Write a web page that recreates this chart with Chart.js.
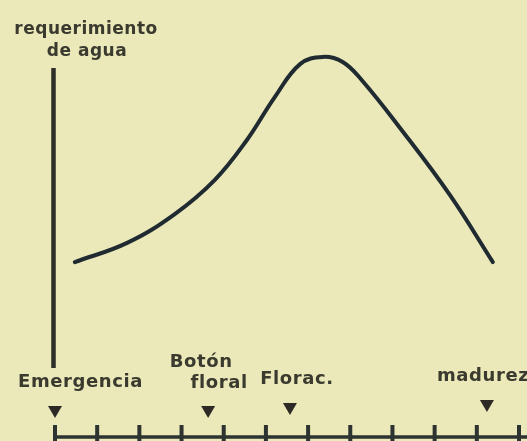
<!DOCTYPE html>
<html>
<head>
<meta charset="utf-8">
<script src="https://cdn.jsdelivr.net/npm/chart.js@4/dist/chart.umd.min.js"></script>
<style>
  html, body { margin: 0; padding: 0; background: #ebe8b9; }
  #wrap { width: 527px; height: 441px; position: relative; }
</style>
</head>
<body>
<div id="wrap"><canvas id="c" width="527" height="441"></canvas></div>
<script>
// ---- data ----
const axisTitle = ["requerimiento", "de agua"];
const curveX = [0.47, 1.71, 2.84, 3.79, 4.55, 5.21, 5.81, 6.35, 6.82, 7.27, 8.18, 9.36, 10.38];
const curveY = [35.3, 41.7, 51.3, 62.7, 76, 90.3, 101.3, 103.7, 102, 96, 80, 57.7, 35.3];
const timeTicks = [0, 1, 2, 3, 4, 5, 6, 7, 8, 9, 10, 11];
const stageNames = [["Emergencia"], ["Botón", "floral"], ["Florac."], ["madurez"]];
const stagePos = [0, 3.63, 5.57, 10.24];

const ink = '#3a3a2f';
const curveInk = '#1f2b31';

// label layout (pixel offsets relative to the stage marker), style only
const labelStyle = [
  { lines: [{ dx: -37, dy: -19, align: 'left' }] },
  { lines: [{ dx: -7, dy: -39, align: 'center' }, { dx: 11, dy: -18, align: 'center' }] },
  { lines: [{ dx: 7, dy: -19, align: 'center' }] },
  { lines: [{ dx: -50, dy: -19, align: 'left' }] }
];

const decor = {
  id: 'decor',
  beforeDatasetsDraw(chart) {
    const { ctx, chartArea, scales } = chart;
    const xs = scales.x, ys = scales.y;
    ctx.save();
    // vertical axis line
    ctx.strokeStyle = '#2e2f28';
    ctx.lineWidth = 4.5;
    ctx.beginPath();
    ctx.moveTo(xs.getPixelForValue(0) - 1.5, ys.getPixelForValue(100));
    ctx.lineTo(xs.getPixelForValue(0) - 1.5, ys.getPixelForValue(0));
    ctx.stroke();

    // axis title
    ctx.fillStyle = ink;
    ctx.font = 'bold 17px "DejaVu Sans"';
    ctx.letterSpacing = '0.5px';
    ctx.textAlign = 'center';
    ctx.textBaseline = 'alphabetic';
    ctx.fillText(axisTitle[0], 86, 34);
    ctx.fillText(axisTitle[1], 87, 56);

    // bottom time axis
    const baseY = chartArea.bottom + 69;
    ctx.strokeStyle = '#2c3331';
    ctx.lineWidth = 3.5;
    ctx.beginPath();
    ctx.moveTo(xs.getPixelForValue(timeTicks[0]) - 2, baseY);
    ctx.lineTo(chart.width, baseY);
    ctx.stroke();
    ctx.lineWidth = 4;
    timeTicks.forEach(t => {
      const px = xs.getPixelForValue(t);
      ctx.beginPath();
      ctx.moveTo(px, baseY - 12);
      ctx.lineTo(px, chart.height);
      ctx.stroke();
    });

    // stage markers and labels
    ctx.font = 'bold 18px "DejaVu Sans"';
    ctx.letterSpacing = '0.6px';
    stagePos.forEach((s, i) => {
      const px = xs.getPixelForValue(s);
      const triTop = baseY - 31 + (i === 2 ? -3 : 0) + (i === 3 ? -6 : 0);
      ctx.fillStyle = '#2d2a26';
      ctx.beginPath();
      ctx.moveTo(px - 7, triTop);
      ctx.lineTo(px + 7, triTop);
      ctx.lineTo(px, triTop + 12);
      ctx.closePath();
      ctx.fill();
      ctx.fillStyle = ink;
      stageNames[i].forEach((name, j) => {
        const st = labelStyle[i].lines[j];
        ctx.textAlign = st.align;
        ctx.fillText(name, px + st.dx, triTop + st.dy);
      });
    });
    ctx.restore();
  }
};

new Chart(document.getElementById('c'), {
  type: 'line',
  data: {
    datasets: [{
      data: curveX.map((x, i) => ({ x: x, y: curveY[i] })),
      borderColor: curveInk,
      borderWidth: 4,
      pointRadius: 0,
      tension: 0.4,
      borderCapStyle: 'round',
      borderJoinStyle: 'round',
      clip: false,
      fill: false
    }]
  },
  options: {
    responsive: false,
    animation: false,
    events: [],
    layout: { padding: { left: 55, right: 8, top: 68, bottom: 73 } },
    plugins: { legend: { display: false }, tooltip: { enabled: false } },
    scales: {
      x: { type: 'linear', min: 0, max: 11, display: false },
      y: { type: 'linear', min: 0, max: 100, display: false }
    }
  },
  plugins: [decor]
});
</script>
</body>
</html>
